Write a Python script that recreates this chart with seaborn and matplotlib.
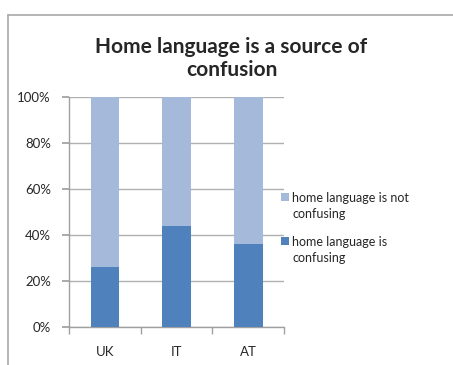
import matplotlib
matplotlib.use("Agg")
import matplotlib.pyplot as plt
import seaborn as sns
import pandas as pd
from matplotlib.lines import Line2D
from matplotlib.patches import Patch, Rectangle
from matplotlib.legend_handler import HandlerPatch

countries = ["UK", "IT", "AT"]
confusing = [26, 44, 36]
not_confusing = [74, 56, 64]
yticks = [0, 20, 40, 60, 80, 100]
ytick_labels = ["0%", "20%", "40%", "60%", "80%", "100%"]
title = "Home language is a source of\nconfusion"
legend_labels = ["home language is not\nconfusing", "home language is\nconfusing"]

c_dark = "#4F81BD"
c_light = "#A5B9DB"

sns.set_theme(style="white")
plt.rcParams["font.family"] = ["Lato", "DejaVu Sans"]

df = pd.DataFrame({"country": countries, "confusing": confusing,
                   "total": [a + b for a, b in zip(confusing, not_confusing)]})

fig = plt.figure(figsize=(4.53, 3.65), dpi=100)
ax = fig.add_axes([69/453, 38/365, 215/453, 230/365])

sns.barplot(data=df, x="country", y="total", color=c_light, width=0.4,
            saturation=1, ax=ax, linewidth=0, edgecolor="none", zorder=3)
sns.barplot(data=df, x="country", y="confusing", color=c_dark, width=0.4,
            saturation=1, ax=ax, linewidth=0, edgecolor="none", zorder=4)

ax.set_xlim(-0.5, 2.5)
ax.set_ylim(0, 100)
ax.set_yticks(yticks)
ax.set_yticklabels(ytick_labels, fontsize=9.5)
ax.yaxis.grid(True, color="#B0B0B0", linewidth=1, zorder=0)
ax.set_axisbelow(True)
ax.set_xlabel("")
ax.set_ylabel("")
for s in ["top", "right"]:
    ax.spines[s].set_visible(False)
for s in ["left", "bottom"]:
    ax.spines[s].set_color("#A0A0A0")
    ax.spines[s].set_linewidth(1)
ax.tick_params(axis="y", which="major", length=5, color="#A0A0A0", pad=8, left=True)
ax.set_xticks([-0.5, 0.5, 1.5, 2.5], minor=True)
ax.tick_params(axis="x", which="minor", length=5, color="#A0A0A0", bottom=True)
ax.tick_params(axis="x", which="major", length=0, pad=14, labelsize=9.5)

fig.text(0.511, 0.84, title, ha="center", va="center", fontsize=15,
         fontweight="bold", linespacing=1.2)


def top_square(legend, orig_handle, xdescent, ydescent, width, height, fontsize):
    return Rectangle((-xdescent, -ydescent + 0.75 * fontsize), width, height)


handles = [Patch(facecolor=c_light, edgecolor="none"),
           Patch(facecolor=c_dark, edgecolor="none")]
leg = fig.legend(handles, legend_labels, loc="center left",
                 bbox_to_anchor=(270/453, 0.375), frameon=False, fontsize=9,
                 handlelength=0.6, handleheight=0.6, handletextpad=0.3,
                 labelspacing=1.25,
                 handler_map={Patch: HandlerPatch(patch_func=top_square)})
for t in leg.get_texts():
    t.set_linespacing(1.45)

fig.add_artist(Line2D([7.5/453, 7.5/453], [0, 1 - 15/365], transform=fig.transFigure,
                      color="#A8A8A8", linewidth=1.2))
fig.add_artist(Line2D([7.5/453, 1], [1 - 15/365, 1 - 15/365], transform=fig.transFigure,
                      color="#A8A8A8", linewidth=1.2))

fig.savefig("out.png", dpi=100)
